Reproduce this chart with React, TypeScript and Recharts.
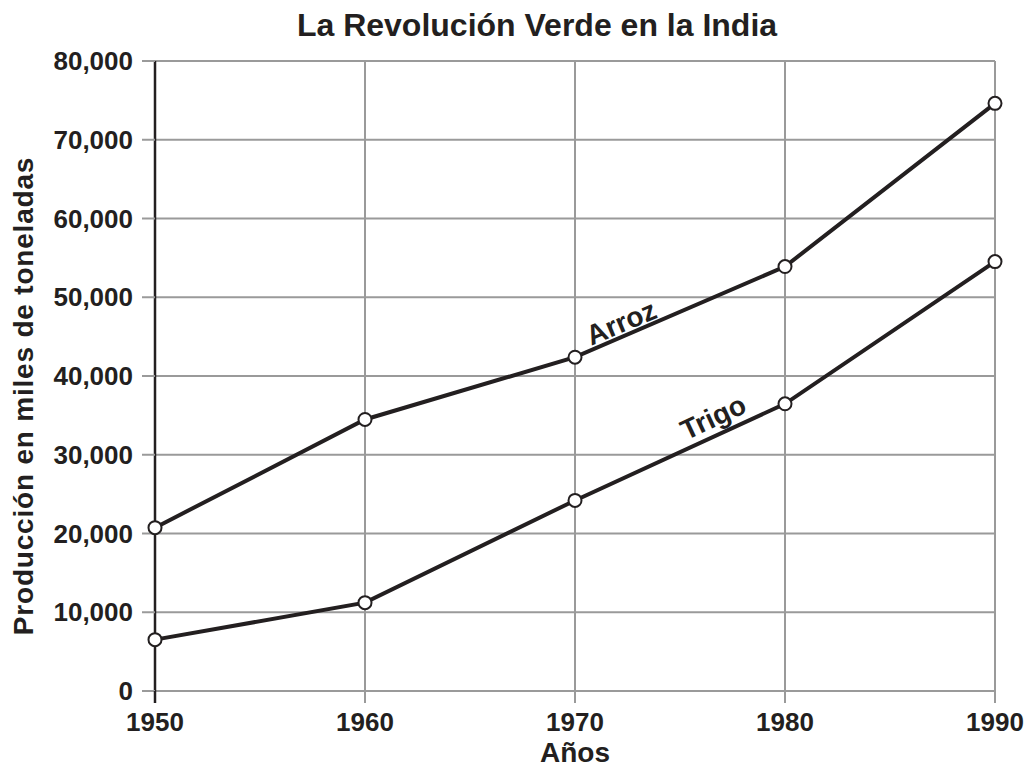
import React from 'react';
import { LineChart, Line, XAxis, YAxis, CartesianGrid, LabelList } from 'recharts';

const years = [1950, 1960, 1970, 1980, 1990];
const arroz = [20740, 34480, 42390, 53900, 74620];
const trigo = [6520, 11220, 24200, 36470, 54530];
const yTicks = [0, 10000, 20000, 30000, 40000, 50000, 60000, 70000, 80000];
const title = 'La Revolución Verde en la India';
const xLabel = 'Años';
const yLabel = 'Producción en miles de toneladas';
const seriesNames = ['Arroz', 'Trigo'];

const data = years.map((year, i) => ({ year, arroz: arroz[i], trigo: trigo[i] }));

const INK = '#231f20';
const GRID = '#9a9a9a';
const FONT = '"Liberation Sans", Arial, Helvetica, sans-serif';

const W = 1028;
const H = 778;

const fmt = (v: number) => v.toLocaleString('en-US');

const XTick = (props: any) => {
  const { x, y, payload } = props;
  return (
    <g>
      {payload.value === years[0] && (
        <line x1={x} x2={x} y1={y - 12} y2={y} stroke={INK} strokeWidth={2.5} />
      )}
      <text x={x} y={y + 28} textAnchor="middle" fill={INK} fontSize={26} fontWeight={700} fontFamily={FONT}>
        {payload.value}
      </text>
    </g>
  );
};

const makeSeriesLabel = (name: string, idx: number, dx: number, dy: number, angle: number) => (props: any) => {
  if (props.index !== idx) return null;
  const cx = Number(props.x) + dx;
  const cy = Number(props.y) + dy;
  return (
    <text
      transform={`translate(${cx},${cy}) rotate(${angle})`}
      textAnchor="middle"
      dy="0.36em"
      fill={INK}
      fontSize={28}
      fontWeight={700}
      fontFamily={FONT}
    >
      {name}
    </text>
  );
};

const XAxisTitle = (props: any) => {
  const vb = props.viewBox || {};
  return (
    <text x={vb.x + vb.width / 2} y={vb.y + 71} textAnchor="middle" fill={INK} fontSize={28} fontWeight={700} fontFamily={FONT}>
      {xLabel}
    </text>
  );
};

const YAxisTitle = () => {
  const cx = 33;
  const cy = 396;
  return (
    <text
      transform={`translate(${cx},${cy}) rotate(-90)`}
      textAnchor="middle"
      fill={INK}
      fontSize={28}
      fontWeight={700}
      fontFamily={FONT}
      letterSpacing={0.8}
    >
      {yLabel}
    </text>
  );
};

export default function App() {
  return (
    <div style={{ position: 'absolute', left: 0, top: 0, width: W, height: H, overflow: 'hidden' }}>
      <LineChart width={W} height={H} data={data} margin={{ top: 61, right: 33, left: 15, bottom: 37 }}>
        <CartesianGrid stroke={GRID} strokeWidth={2} />
        <XAxis
          dataKey="year"
          type="number"
          domain={[1950, 1990]}
          ticks={years}
          height={50}
          axisLine={false}
          tickLine={{ stroke: GRID, strokeWidth: 2 }}
          tickSize={12}
          tickMargin={0}
          tick={<XTick />}
          label={<XAxisTitle />}
        />
        <YAxis
          type="number"
          domain={[0, 80000]}
          ticks={yTicks}
          width={140}
          axisLine={{ stroke: INK, strokeWidth: 2.5 }}
          tickLine={{ stroke: GRID, strokeWidth: 2 }}
          tickSize={13}
          tickMargin={9}
          tickFormatter={fmt}
          tick={{ fill: INK, fontSize: 26, fontWeight: 700, fontFamily: FONT }}
          label={<YAxisTitle />}
        />
        <Line
          dataKey="arroz"
          stroke={INK}
          strokeWidth={4}
          dot={{ r: 6.5, fill: '#fff', stroke: INK, strokeWidth: 2 }}
          isAnimationActive={false}
        >
          <LabelList content={makeSeriesLabel(seriesNames[0], 2, 46, -35, -23)} />
        </Line>
        <Line
          dataKey="trigo"
          stroke={INK}
          strokeWidth={4}
          dot={{ r: 6.5, fill: '#fff', stroke: INK, strokeWidth: 2 }}
          isAnimationActive={false}
        >
          <LabelList content={makeSeriesLabel(seriesNames[1], 3, -72, 13, -25)} />
        </Line>
      </LineChart>
      <svg width={W} height={H} style={{ position: 'absolute', left: 0, top: 0, pointerEvents: 'none' }}>
        <text x={537} y={36} textAnchor="middle" fill={INK} fontSize={32} fontWeight={700} fontFamily={FONT}>
          {title}
        </text>
      </svg>
    </div>
  );
}
